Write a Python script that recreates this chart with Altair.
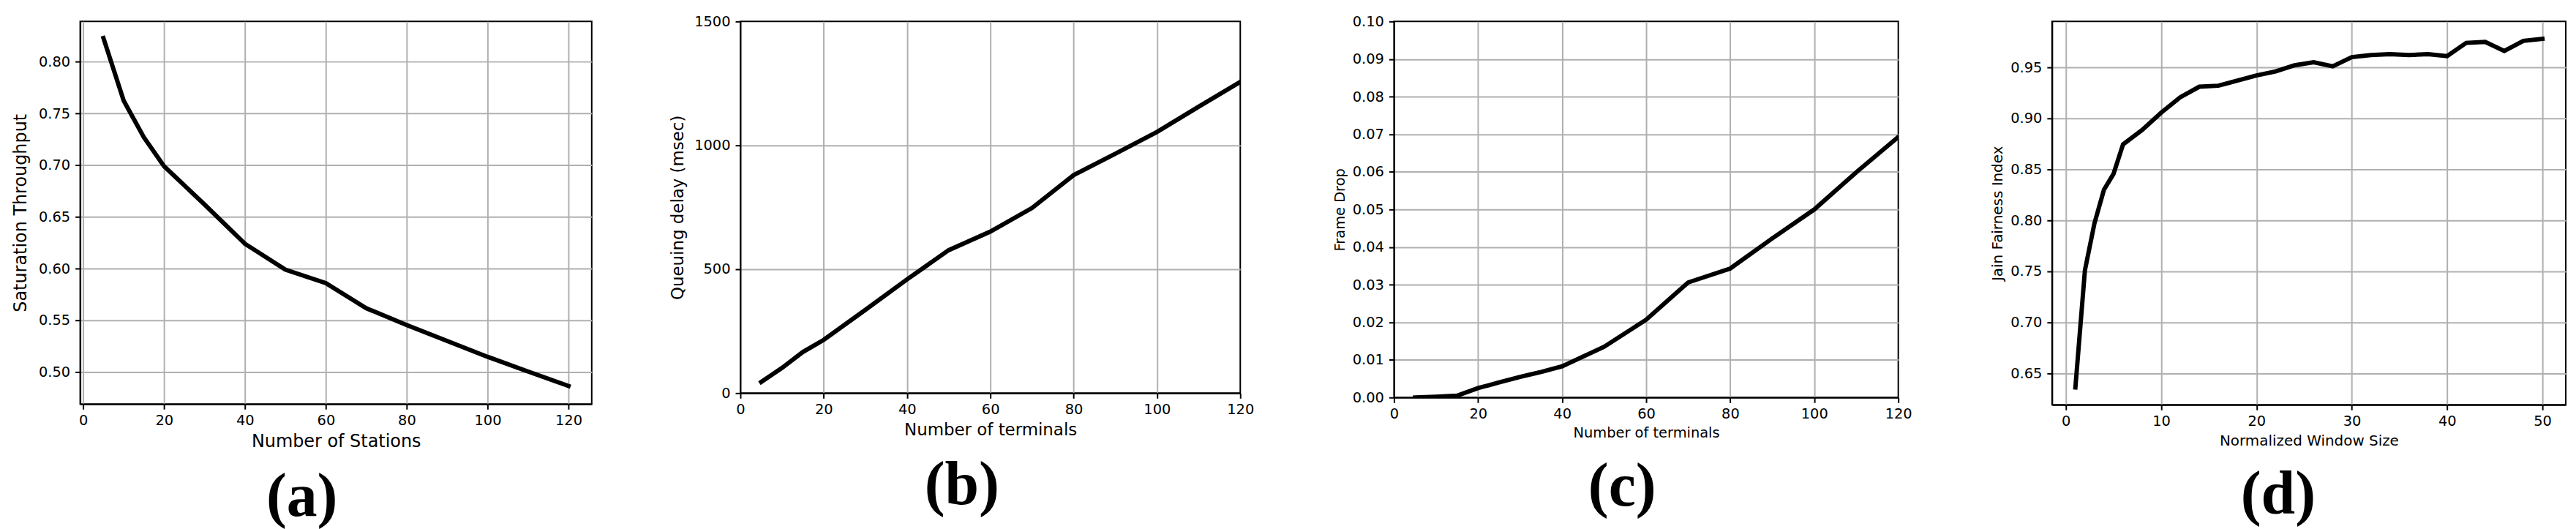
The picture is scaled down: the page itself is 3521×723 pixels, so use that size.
import altair as alt
import pandas as pd

# ---------------- data ----------------
# (a) Saturation throughput vs number of stations
a_x = [5, 10, 15, 20, 30, 40, 50, 60, 70, 80, 90, 100, 110, 120]
a_y = [0.823, 0.7625, 0.727, 0.699, 0.662, 0.624, 0.599, 0.586, 0.5617,
       0.5454, 0.530, 0.5147, 0.5005, 0.4865]

# (b) Queuing delay vs number of terminals
b_x = [5, 10, 15, 20, 30, 40, 50, 60, 70, 80, 90, 100, 110, 120]
b_y = [45, 102, 166, 215, 336, 459, 577, 652, 747, 880, 966, 1054, 1156, 1256]

# (c) Frame drop vs number of terminals
c_x = [5, 10, 15, 20, 25, 30, 35, 40, 50, 60, 70, 80, 90, 100, 110, 120]
c_y = [0.0, 0.0002, 0.0005, 0.0025, 0.0040, 0.0055, 0.0068, 0.0083, 0.0135,
       0.0207, 0.0306, 0.0343, 0.0423, 0.0500, 0.0599, 0.0693]

# (d) Jain fairness index vs normalized window size
d_x = [1, 2, 3, 4, 5, 6, 8, 10, 12, 14, 16, 18, 20, 22, 24, 26, 28, 30, 32,
       34, 36, 38, 40, 42, 44, 46, 48, 50]
d_y = [0.636, 0.751, 0.797, 0.830, 0.8455, 0.8745, 0.8886, 0.9056, 0.9206,
       0.931, 0.932, 0.937, 0.942, 0.946, 0.952, 0.955, 0.951, 0.960, 0.962,
       0.963, 0.962, 0.963, 0.961, 0.974, 0.975, 0.966, 0.976, 0.978]

# tick values
ticks_x120 = [0, 20, 40, 60, 80, 100, 120]
ticks_x50 = [0, 10, 20, 30, 40, 50]
ticks_a_y = [0.50, 0.55, 0.60, 0.65, 0.70, 0.75, 0.80]
ticks_b_y = [0, 500, 1000, 1500]
ticks_c_y = [0.00, 0.01, 0.02, 0.03, 0.04, 0.05, 0.06, 0.07, 0.08, 0.09, 0.10]
ticks_d_y = [0.65, 0.70, 0.75, 0.80, 0.85, 0.90, 0.95]


def grid_op(edge):
    if edge is None:
        return 1
    return {"condition": {"test": edge, "value": 0}, "value": 1}


def panel(xs, ys, xdom, ydom, xvals, yvals, yfmt, xtitle, ytitle, tsize,
          ytpad, caption, w, h, xedge=None, yedge=None):
    df = pd.DataFrame({"x": xs, "y": ys})
    x_axis = alt.Axis(values=xvals, title=xtitle, format="d",
                      titleFontSize=tsize, titlePadding=8, labelPadding=6,
                      gridOpacity=grid_op(xedge))
    y_axis = alt.Axis(values=yvals, title=ytitle, format=yfmt,
                      titleFontSize=tsize, titlePadding=ytpad, labelPadding=7,
                      gridOpacity=grid_op(yedge))
    return (
        alt.Chart(
            df,
            title=alt.TitleParams(
                text=caption, orient="bottom", anchor="middle", frame="bounds",
                font="Liberation Serif", fontSize=84, fontWeight="bold",
                color="black", offset=24,
            ),
        )
        .mark_line(color="black", strokeWidth=6, strokeCap="square", clip=True)
        .encode(
            x=alt.X("x:Q", scale=alt.Scale(domain=xdom, nice=False, zero=False),
                    axis=x_axis),
            y=alt.Y("y:Q", scale=alt.Scale(domain=ydom, nice=False, zero=False),
                    axis=y_axis),
        )
        .properties(width=w, height=h)
    )


pa = panel(a_x, a_y, [-0.75, 125.75], [0.469, 0.839], ticks_x120, ticks_a_y,
           ".2f", "Number of Stations", "Saturation Throughput", 24, 12,
           "(a)", 702, 525)
pb = panel(b_x, b_y, [0, 120], [0, 1500], ticks_x120, ticks_b_y,
           "d", "Number of terminals", "Queuing delay (msec)", 23, 10,
           "(b)", 686, 510,
           xedge="datum.value <= 0 || datum.value >= 120",
           yedge="datum.value <= 0 || datum.value >= 1500")
pc = panel(c_x, c_y, [0, 120], [0, 0.1], ticks_x120, ticks_c_y,
           ".2f", "Number of terminals", "Frame Drop", 19.5, 7,
           "(c)", 692, 516,
           xedge="datum.value <= 0 || datum.value >= 120",
           yedge="datum.value <= 0.0001 || datum.value >= 0.0999")
pd_ = panel(d_x, d_y, [-1.45, 52.45], [0.619, 0.995], ticks_x50, ticks_d_y,
            ".2f", "Normalized Window Size", "Jain Fairness Index", 20, 7,
            "(d)", 705, 526)

chart = (
    alt.hconcat(pa, pb, pc, pd_, spacing=105)
    .properties(padding={"left": 7, "top": 9, "right": 5, "bottom": 0},
                background="white")
    .configure_axis(
        labelFont="DejaVu Sans", labelFontSize=19.5, labelColor="black",
        titleFont="DejaVu Sans", titleFontWeight="normal", titleColor="black",
        domainColor="black", domainWidth=2, tickColor="black", tickWidth=2,
        tickSize=7, gridColor="#b0b0b0", gridWidth=2,
        labelFlush=False, labelOverlap=False,
    )
    .configure_view(stroke="black", strokeWidth=2)
)

chart.save("out.html", embed_options={"renderer": "svg", "actions": False})
